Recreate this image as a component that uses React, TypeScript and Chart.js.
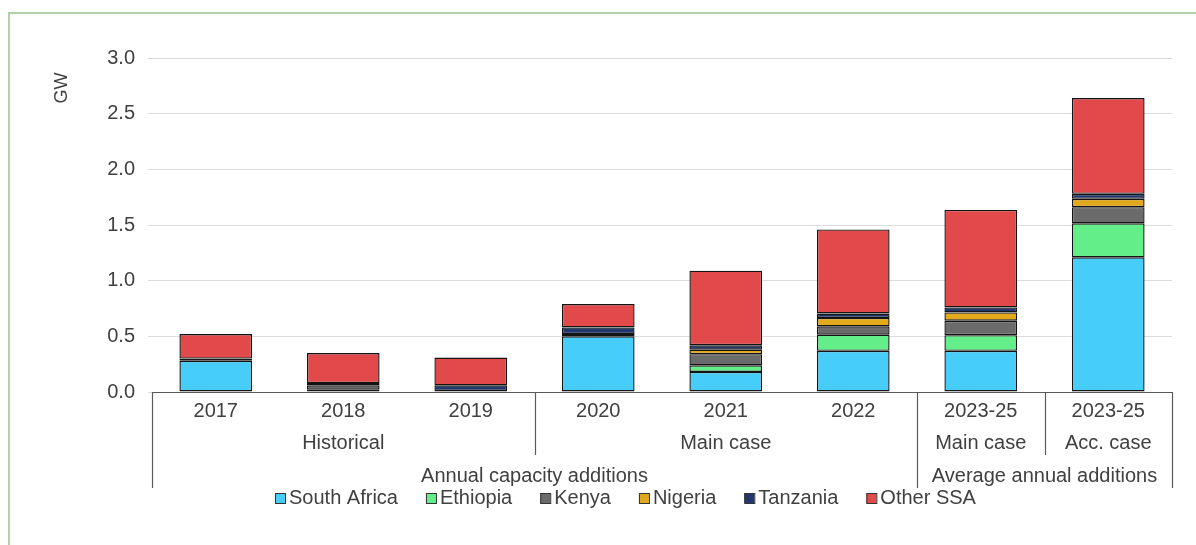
import React, { useEffect, useRef } from "react";
import { Chart, registerables } from "chart.js";

Chart.register(...registerables);

const categories = ["2017", "2018", "2019", "2020", "2021", "2022", "2023-25", "2023-25"];
const level2Groups = [
  { label: "Historical", from: 0, to: 2 },
  { label: "Main case", from: 3, to: 5 },
  { label: "Main case", from: 6, to: 6 },
  { label: "Acc. case", from: 7, to: 7 },
];
const level3Groups = [
  { label: "Annual capacity additions", from: 0, to: 5 },
  { label: "Average annual additions", from: 6, to: 7 },
];

const southAfrica = [0.28, 0.02, 0.01, 0.5, 0.18, 0.37, 0.37, 1.21];
const ethiopia = [null, null, null, null, 0.06, 0.145, 0.14, 0.305];
const kenya = [null, 0.04, null, 0.02, 0.1, 0.075, 0.13, 0.145];
const nigeria = [null, null, null, null, 0.04, 0.075, 0.075, 0.075];
const tanzania = [0.02, 0.02, 0.05, 0.06, 0.04, 0.04, 0.045, 0.045];
const otherSSA = [0.22, 0.27, 0.25, 0.21, 0.67, 0.755, 0.875, 0.86];

const yTicks = [0, 0.5, 1, 1.5, 2, 2.5, 3];

const FONT = "'Liberation Sans', Arial, sans-serif";
const TEXT = "#404040";

const seriesDefs = [
  { label: "South Africa", data: southAfrica, color: "#47CDFA" },
  { label: "Ethiopia", data: ethiopia, color: "#63EE8A" },
  { label: "Kenya", data: kenya, color: "#6B6B6B" },
  { label: "Nigeria", data: nigeria, color: "#E2A91C" },
  { label: "Tanzania", data: tanzania, color: "#22376C" },
  { label: "Other SSA", data: otherSSA, color: "#E2494A" },
];

const axisPlugin = {
  id: "multiAxis",
  afterDraw(chart: any) {
    const ctx = chart.ctx;
    const x = chart.scales.x;
    const area = chart.chartArea;
    const n = categories.length;
    const step = (area.right - area.left) / n;
    const edge = (i: number) => area.left + step * i;
    const base = area.bottom;
    ctx.save();
    ctx.strokeStyle = "#595959";
    ctx.lineWidth = 1.2;
    ctx.beginPath();
    ctx.moveTo(area.left, base + 0.5);
    ctx.lineTo(area.right, base + 0.5);
    ctx.stroke();
    const lvl3Bounds = new Set<number>();
    level3Groups.forEach((g) => {
      lvl3Bounds.add(g.from);
      lvl3Bounds.add(g.to + 1);
    });
    const lvl2Bounds = new Set<number>();
    level2Groups.forEach((g) => {
      lvl2Bounds.add(g.from);
      lvl2Bounds.add(g.to + 1);
    });
    for (let i = 0; i <= n; i++) {
      let bottom = -1;
      if (lvl3Bounds.has(i)) bottom = base + 96;
      else if (lvl2Bounds.has(i)) bottom = base + 63;
      if (bottom > 0) {
        const px = Math.round(edge(i)) + 0.5;
        ctx.beginPath();
        ctx.moveTo(px, base);
        ctx.lineTo(px, bottom);
        ctx.stroke();
      }
    }
    ctx.fillStyle = TEXT;
    ctx.font = `20px ${FONT}`;
    ctx.textAlign = "center";
    ctx.textBaseline = "middle";
    categories.forEach((c, i) => {
      ctx.fillText(c, x.getPixelForValue(i), base + 19);
    });
    level2Groups.forEach((g) => {
      ctx.fillText(g.label, (edge(g.from) + edge(g.to + 1)) / 2, base + 51);
    });
    level3Groups.forEach((g) => {
      ctx.fillText(g.label, (edge(g.from) + edge(g.to + 1)) / 2, base + 84);
    });
    ctx.save();
    ctx.translate(62, 88);
    ctx.rotate(-Math.PI / 2);
    ctx.font = `18px ${FONT}`;
    ctx.fillText("GW", 0, 0);
    ctx.restore();
    ctx.font = `20px ${FONT}`;
    ctx.textAlign = "left";
    let lx = 275;
    const ly = 498;
    chart.data.datasets.forEach((ds: any) => {
      ctx.fillStyle = ds.backgroundColor;
      ctx.fillRect(lx, ly - 5, 10, 10);
      ctx.strokeStyle = "#333";
      ctx.lineWidth = 1;
      ctx.strokeRect(lx + 0.5, ly - 5 + 0.5, 10, 10);
      ctx.fillStyle = TEXT;
      ctx.fillText(ds.label, lx + 14, ly);
      lx += 14 + ctx.measureText(ds.label).width + 28;
    });
    ctx.restore();
  },
};

export default function App() {
  const ref = useRef<HTMLCanvasElement>(null);
  useEffect(() => {
    if (!ref.current) return;
    const chart = new Chart(ref.current, {
      type: "bar",
      data: {
        labels: categories,
        datasets: seriesDefs.map((s) => ({
          label: s.label,
          data: s.data as any,
          backgroundColor: s.color,
          borderColor: "#141414",
          borderWidth: 1.4,
          borderSkipped: false,
          barPercentage: 0.57,
          categoryPercentage: 1,
        })),
      },
      options: {
        responsive: false,
        animation: false,
        layout: { padding: { top: 58, left: 0, right: 24, bottom: 0 } },
        plugins: { legend: { display: false }, tooltip: { enabled: false } },
        scales: {
          x: {
            stacked: true,
            grid: { display: false },
            border: { display: false },
            ticks: { display: false },
            afterFit: (s: any) => {
              s.height = 153;
            },
          },
          y: {
            stacked: true,
            min: 0,
            max: 3,
            afterBuildTicks: (s: any) => {
              s.ticks = yTicks.map((v) => ({ value: v }));
            },
            grid: { color: "#dcdcdc", lineWidth: 1, drawTicks: true, tickLength: 4 },
            border: { display: false },
            ticks: {
              padding: 13,
              color: TEXT,
              font: { family: FONT, size: 20 },
              callback: (v: any) => Number(v).toFixed(1),
            },
            afterFit: (s: any) => {
              s.width = 152;
            },
          },
        },
      },
      plugins: [axisPlugin],
    });
    return () => chart.destroy();
  }, []);
  return (
    <div style={{ position: "absolute", left: 0, top: 0, width: 1196, height: 545, background: "#fff" }}>
      <div
        style={{
          position: "absolute",
          left: 8,
          top: 12,
          width: 1200,
          height: 600,
          borderTop: "2px solid #b3d1a8",
          borderLeft: "2px solid #b3d1a8",
        }}
      />
      <canvas ref={ref} width={1196} height={545} style={{ position: "absolute", left: 0, top: 0 }} />
    </div>
  );
}
